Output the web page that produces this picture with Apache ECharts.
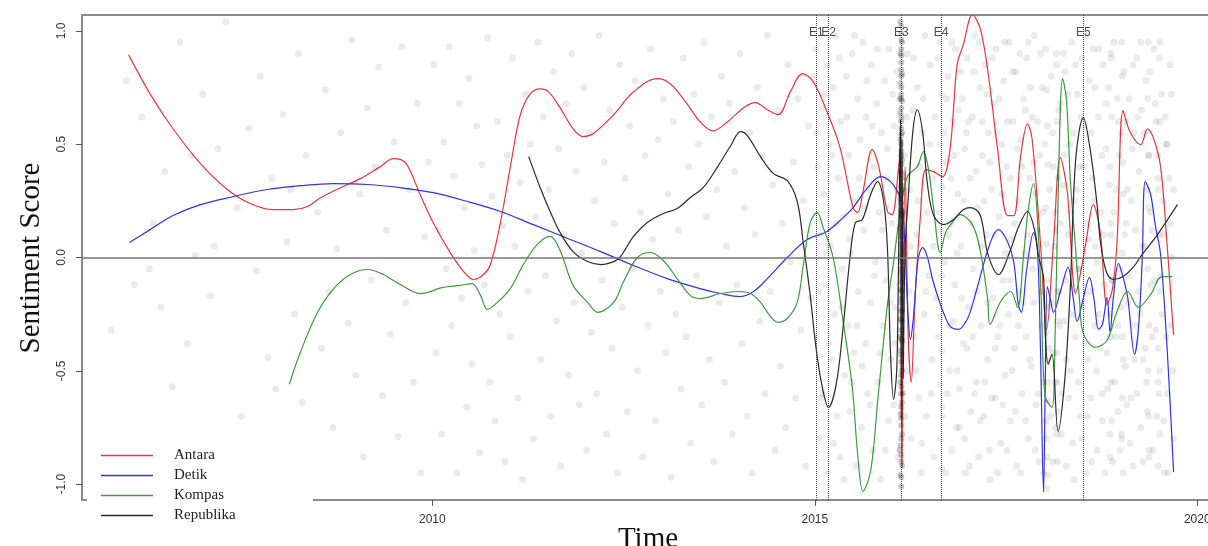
<!DOCTYPE html>
<html><head><meta charset="utf-8">
<script src="https://cdn.jsdelivr.net/npm/echarts@6/dist/echarts.min.js"></script>
<style>html,body{margin:0;padding:0;background:#fff}#c{width:1208px;height:546px}</style>
</head><body><div id="c"></div>
<script>
// ---------- data ----------
const seriesNames = ['Antara', 'Detik', 'Kompas', 'Republika'];
const xTicks = [2010, 2015, 2020];
const yTicks = [-1, -0.5, 0, 0.5, 1];
const events = [['E1', 2015.02], ['E2', 2015.18], ['E3', 2016.13], ['E4', 2016.65], ['E5', 2018.51]];

const antara = [[2006.03,0.894],[2006.31,0.722],[2006.61,0.568],[2006.97,0.414],[2007.32,0.300],[2007.62,0.238],[2007.92,0.211],[2008.18,0.211],[2008.37,0.225],[2008.54,0.264],[2008.80,0.308],[2009.06,0.348],[2009.32,0.401],[2009.49,0.436],[2009.65,0.418],[2009.84,0.278],[2010.01,0.154],[2010.24,0.018],[2010.41,-0.062],[2010.54,-0.097],[2010.67,-0.075],[2010.76,-0.031],[2010.89,0.154],[2011.02,0.401],[2011.15,0.630],[2011.28,0.722],[2011.41,0.744],[2011.52,0.731],[2011.67,0.661],[2011.84,0.568],[2011.97,0.533],[2012.10,0.546],[2012.37,0.630],[2012.63,0.731],[2012.94,0.789],[2013.11,0.767],[2013.33,0.678],[2013.50,0.599],[2013.67,0.559],[2013.86,0.599],[2014.07,0.661],[2014.22,0.683],[2014.38,0.652],[2014.52,0.630],[2014.68,0.731],[2014.84,0.811],[2014.98,0.775],[2015.16,0.643],[2015.33,0.485],[2015.50,0.220],[2015.56,0.198],[2015.63,0.291],[2015.75,0.476],[2015.83,0.410],[2015.95,0.203],[2016.01,0.189],[2016.09,0.379],[2016.12,0.489],[2016.13,-0.185],[2016.14,-0.925],[2016.155,-0.185],[2016.18,0.401],[2016.22,-0.330],[2016.26,-0.551],[2016.31,-0.185],[2016.38,0.181],[2016.45,0.388],[2016.55,0.379],[2016.67,0.357],[2016.77,0.485],[2016.86,0.850],[2016.94,0.938],[2017.06,1.07],[2017.16,1.013],[2017.26,0.828],[2017.39,0.476],[2017.52,0.185],[2017.60,0.185],[2017.69,0.445],[2017.78,0.590],[2017.84,0.524],[2017.95,0.062],[2018.03,-0.317],[2018.12,0.062],[2018.21,0.441],[2018.30,0.291],[2018.41,-0.159],[2018.47,-0.075],[2018.55,0.079],[2018.64,0.233],[2018.73,0.115],[2018.82,-0.207],[2018.89,-0.141],[2018.95,0.062],[2019.03,0.648],[2019.12,0.555],[2019.26,0.498],[2019.35,0.568],[2019.43,0.524],[2019.52,0.401],[2019.61,0.035],[2019.69,-0.343]];

const detik = [[2006.04,0.066],[2006.31,0.123],[2006.61,0.185],[2006.97,0.233],[2007.40,0.269],[2007.84,0.300],[2008.28,0.317],[2008.71,0.326],[2009.15,0.322],[2009.58,0.308],[2010.01,0.286],[2010.46,0.247],[2010.89,0.203],[2011.32,0.145],[2011.77,0.084],[2012.20,0.026],[2012.63,-0.035],[2013.07,-0.093],[2013.50,-0.137],[2013.77,-0.159],[2014.03,-0.172],[2014.20,-0.150],[2014.38,-0.093],[2014.64,0.000],[2014.90,0.079],[2015.16,0.115],[2015.37,0.176],[2015.50,0.220],[2015.69,0.308],[2015.86,0.357],[2015.99,0.335],[2016.08,0.291],[2016.14,0.242],[2016.18,0.035],[2016.22,-0.260],[2016.25,-0.361],[2016.29,-0.260],[2016.35,-0.009],[2016.41,0.044],[2016.47,0.004],[2016.54,-0.097],[2016.62,-0.185],[2016.68,-0.242],[2016.77,-0.304],[2016.88,-0.317],[2016.97,-0.286],[2017.03,-0.242],[2017.12,-0.137],[2017.29,0.062],[2017.40,0.123],[2017.52,0.070],[2017.60,-0.018],[2017.66,-0.207],[2017.70,-0.242],[2017.77,-0.053],[2017.86,0.110],[2017.91,0.035],[2017.95,-0.405],[2017.99,-1.035],[2018.01,-0.626],[2018.04,-0.128],[2018.08,-0.185],[2018.12,-0.242],[2018.21,-0.150],[2018.31,-0.044],[2018.38,-0.185],[2018.43,-0.282],[2018.50,-0.194],[2018.59,-0.088],[2018.65,-0.185],[2018.71,-0.317],[2018.76,-0.295],[2018.82,-0.176],[2018.86,-0.330],[2018.90,-0.185],[2018.97,-0.026],[2019.02,-0.075],[2019.09,-0.176],[2019.18,-0.427],[2019.23,-0.317],[2019.28,-0.009],[2019.32,0.335],[2019.39,0.278],[2019.45,0.145],[2019.52,0.013],[2019.61,-0.427],[2019.69,-0.947]];

const kompas = [[2008.13,-0.559],[2008.28,-0.414],[2008.50,-0.242],[2008.71,-0.137],[2008.93,-0.075],[2009.15,-0.053],[2009.36,-0.075],[2009.58,-0.119],[2009.84,-0.159],[2010.14,-0.132],[2010.37,-0.123],[2010.52,-0.115],[2010.63,-0.167],[2010.72,-0.229],[2010.85,-0.198],[2011.02,-0.137],[2011.19,-0.031],[2011.37,0.057],[2011.54,0.093],[2011.67,0.031],[2011.84,-0.123],[2012.03,-0.198],[2012.16,-0.242],[2012.37,-0.198],[2012.50,-0.106],[2012.68,0.000],[2012.85,0.022],[2013.02,-0.013],[2013.20,-0.093],[2013.37,-0.167],[2013.50,-0.181],[2013.77,-0.159],[2013.99,-0.150],[2014.16,-0.159],[2014.29,-0.198],[2014.42,-0.260],[2014.52,-0.286],[2014.64,-0.269],[2014.77,-0.198],[2014.85,-0.031],[2014.94,0.154],[2015.03,0.198],[2015.11,0.132],[2015.24,0.000],[2015.37,-0.282],[2015.49,-0.573],[2015.56,-0.868],[2015.63,-1.031],[2015.73,-0.943],[2015.83,-0.604],[2015.95,-0.207],[2016.03,-0.018],[2016.12,0.211],[2016.21,0.357],[2016.34,0.401],[2016.42,0.467],[2016.48,0.401],[2016.55,0.225],[2016.64,0.022],[2016.71,0.110],[2016.81,0.159],[2016.90,0.189],[2017.06,0.145],[2017.16,0.035],[2017.26,-0.185],[2017.29,-0.295],[2017.43,-0.194],[2017.56,-0.150],[2017.65,-0.220],[2017.73,0.013],[2017.79,0.211],[2017.86,0.326],[2017.92,0.115],[2017.96,-0.185],[2018.01,-0.612],[2018.10,-0.661],[2018.14,-0.361],[2018.18,0.256],[2018.24,0.789],[2018.29,0.696],[2018.34,0.344],[2018.41,0.035],[2018.46,-0.185],[2018.51,-0.335],[2018.67,-0.396],[2018.82,-0.366],[2018.95,-0.238],[2019.09,-0.150],[2019.23,-0.220],[2019.39,-0.163],[2019.54,-0.084],[2019.67,-0.084]];

const republika = [[2011.26,0.445],[2011.41,0.308],[2011.54,0.203],[2011.67,0.110],[2011.84,0.026],[2012.03,-0.018],[2012.20,-0.031],[2012.37,-0.018],[2012.46,0.004],[2012.63,0.093],[2012.81,0.154],[2013.02,0.194],[2013.20,0.216],[2013.37,0.264],[2013.54,0.308],[2013.73,0.401],[2013.90,0.493],[2014.03,0.555],[2014.12,0.537],[2014.29,0.445],[2014.46,0.370],[2014.64,0.339],[2014.77,0.247],[2014.85,0.062],[2014.94,-0.167],[2015.01,-0.383],[2015.09,-0.559],[2015.18,-0.661],[2015.28,-0.559],[2015.37,-0.308],[2015.46,0.000],[2015.53,0.154],[2015.62,0.167],[2015.73,0.278],[2015.82,0.335],[2015.90,0.247],[2015.95,0.035],[2015.99,-0.427],[2016.03,-0.626],[2016.07,-0.502],[2016.09,-0.132],[2016.12,0.608],[2016.13,-0.714],[2016.14,0.520],[2016.155,-0.537],[2016.18,0.035],[2016.22,0.256],[2016.28,0.551],[2016.34,0.652],[2016.41,0.551],[2016.47,0.330],[2016.55,0.189],[2016.68,0.145],[2016.81,0.167],[2016.94,0.211],[2017.03,0.220],[2017.16,0.189],[2017.26,0.018],[2017.40,-0.075],[2017.56,0.035],[2017.66,0.132],[2017.78,0.203],[2017.88,0.110],[2017.92,0.013],[2017.99,-0.088],[2018.01,-0.317],[2018.05,-0.471],[2018.10,-0.427],[2018.18,-0.767],[2018.27,-0.529],[2018.34,-0.132],[2018.41,0.432],[2018.51,0.617],[2018.60,0.476],[2018.69,0.233],[2018.73,0.079],[2018.81,-0.062],[2018.90,-0.097],[2019.03,-0.084],[2019.16,-0.044],[2019.29,0.018],[2019.48,0.101],[2019.74,0.233]];

// individual article scores (x, y pairs, flattened)
const dotsEarly = [2005.8,-0.32,2006.0,0.78,2006.1,-0.12,2006.2,0.62,2006.3,-0.05,2006.35,0.15,2006.5,0.38,2006.6,-0.57,2006.7,0.95,2006.8,-0.38,2006.9,0.01,2007.0,0.72,2007.1,-0.17,2007.2,0.48,2007.3,1.04,2007.35,-0.91,2007.45,0.22,2007.5,-0.7,2007.6,0.57,2007.7,-0.06,2007.75,0.8,2007.85,-0.44,2007.9,0.35,2008.0,-0.82,2008.05,0.63,2008.1,0.07,2008.2,-0.25,2008.25,0.9,2008.3,-0.64,2008.35,0.45,2008.4,-0.98,2008.5,0.2,2008.55,-0.4,2008.6,0.74,2008.7,-0.75,2008.75,0.04,2008.8,0.55,2008.9,-0.29,2008.95,0.96,2009.0,-0.52,2009.05,0.28,2009.1,-0.88,2009.15,0.66,2009.2,-0.1,2009.3,0.84,2009.35,-0.61,2009.4,0.12,2009.45,-0.34,2009.5,0.51,2009.55,-0.79,2009.6,0.93,2009.65,-0.2,2009.7,0.3,2009.75,-0.55,2009.8,0.68,2009.85,-0.95,2009.9,0.09,2009.95,0.42,2006.45,-0.22,2007.15,0.05,2008.15,0.3,2008.65,-0.15,2009.25,0.4,2007.95,-0.58,2006.85,0.45];

const dotsMid = [2010.02,0.85,2010.05,-0.42,2010.08,0.12,2010.12,-0.78,2010.15,0.51,2010.18,-0.05,2010.22,0.93,2010.25,-0.3,2010.28,0.36,2010.32,-0.95,2010.35,0.68,2010.38,-0.18,2010.42,0.22,2010.45,-0.66,2010.48,0.79,2010.52,-0.47,2010.55,0.03,2010.58,0.58,2010.62,-0.86,2010.65,0.41,2010.68,-0.12,2010.72,0.97,2010.75,-0.55,2010.78,0.27,2010.82,-0.72,2010.85,0.6,2010.88,-0.25,2010.92,0.14,2010.95,-0.9,2010.98,0.45,2011.02,-0.35,2011.05,0.88,2011.08,0.05,2011.12,-0.62,2011.15,0.33,2011.18,-0.98,2011.22,0.72,2011.25,-0.15,2011.28,0.5,2011.32,-0.8,2011.35,0.18,2011.38,0.95,2011.42,-0.45,2011.45,0.62,2011.48,-0.08,2011.52,0.3,2011.55,-0.7,2011.58,0.82,2011.62,-0.28,2011.65,0.48,2011.68,-0.92,2011.72,0.1,2011.75,0.68,2011.78,-0.52,2011.82,0.9,2011.85,-0.2,2011.88,0.38,2011.92,-0.65,2011.95,0.02,2011.98,0.75,2012.02,-0.85,2012.05,0.55,2012.08,-0.33,2012.12,0.25,2012.15,-0.6,2012.18,0.98,2012.22,-0.1,2012.25,0.42,2012.28,-0.78,2012.32,0.65,2012.35,-0.4,2012.38,0.15,2012.42,-0.95,2012.45,0.85,2012.48,-0.22,2012.52,0.35,2012.55,-0.68,2012.58,0.58,2012.62,-0.05,2012.65,0.78,2012.68,-0.5,2012.72,0.2,2012.75,-0.88,2012.78,0.45,2012.82,-0.3,2012.85,0.92,2012.88,0.08,2012.92,-0.72,2012.95,0.52,2012.98,-0.15,2013.02,0.7,2013.05,-0.42,2013.08,0.28,2013.12,-0.97,2013.15,0.6,2013.18,-0.25,2013.22,0.12,2013.25,-0.58,2013.28,0.88,2013.32,-0.35,2013.35,0.4,2013.38,-0.82,2013.42,0.72,2013.45,-0.08,2013.48,0.5,2013.52,-0.65,2013.55,0.95,2013.58,0.18,2013.62,-0.45,2013.65,0.62,2013.68,-0.9,2013.72,0.3,2013.75,-0.2,2013.78,0.8,2013.82,-0.55,2013.85,0.05,2013.88,0.68,2013.92,-0.78,2013.95,0.38,2013.98,-0.12,2014.02,0.9,2014.05,-0.38,2014.08,0.22,2014.12,-0.7,2014.15,0.55,2014.18,-0.95,2014.22,0.1,2014.25,0.75,2014.28,-0.28,2014.32,0.45,2014.35,-0.6,2014.38,0.98,2014.42,-0.15,2014.45,0.32,2014.48,-0.85,2014.52,0.65,2014.55,-0.48,2014.58,0.15,2014.62,-0.75,2014.65,0.85,2014.68,-0.02,2014.72,0.42,2014.75,-0.62,2014.78,0.7,2014.82,-0.32,2014.85,0.25,2014.88,-0.92,2014.92,0.58,2014.95,-0.18,2014.98,0.8];

const dotsLate = [2015.01,0.92,2015.03,-0.35,2015.04,0.4,2015.06,-0.8,2015.07,0.1,2015.09,0.66,2015.11,-0.6,2015.12,0.28,2015.14,-0.12,2015.16,0.85,2015.17,-0.95,2015.19,0.5,2015.21,0.05,2015.23,-0.45,2015.24,0.75,2015.26,-0.25,2015.27,0.98,2015.29,-0.7,2015.31,0.35,2015.33,-0.88,2015.34,0.6,2015.36,-0.05,2015.37,0.18,2015.39,-0.52,2015.41,0.8,2015.43,-0.3,2015.44,0.45,2015.46,-0.68,2015.47,0.02,2015.49,0.9,2015.51,-0.42,2015.53,0.25,2015.54,-0.92,2015.56,0.7,2015.57,-0.15,2015.59,0.52,2015.61,-0.75,2015.63,0.95,2015.64,0.12,2015.66,-0.38,2015.67,0.62,2015.69,-0.6,2015.71,0.3,2015.73,-0.2,2015.74,0.85,2015.76,-0.85,2015.77,0.4,2015.79,-0.02,2015.81,0.68,2015.83,-0.55,2015.84,0.2,2015.86,-0.98,2015.87,0.55,2015.89,-0.3,2015.91,0.78,2015.93,-0.1,2015.94,0.35,2015.96,-0.72,2015.97,0.92,2015.99,-0.45,2016.01,0.15,2016.03,-0.65,2016.04,0.58,2016.06,-0.22,2016.07,0.82,2016.09,-0.88,2016.17,0.45,2016.19,-0.5,2016.21,0.9,2016.23,-0.15,2016.24,0.3,2016.26,-0.8,2016.28,0.65,2016.31,-0.35,2016.33,0.1,2016.34,0.75,2016.36,-0.62,2016.37,0.4,2016.39,-0.95,2016.41,0.55,2016.43,-0.25,2016.44,0.98,2016.46,-0.7,2016.47,0.2,2016.49,-0.08,2016.51,0.85,2016.53,-0.45,2016.54,0.35,2016.56,-0.88,2016.57,0.62,2016.59,-0.18,2016.71,0.42,2016.73,-0.6,2016.74,0.8,2016.76,-0.3,2016.77,0.15,2016.79,-0.85,2016.81,0.6,2016.83,-0.12,2016.84,0.92,2016.86,-0.5,2016.87,0.28,2016.89,-0.75,2016.91,0.05,2016.93,0.7,2016.94,-0.38,2016.96,0.48,2016.97,-0.95,2016.99,0.88,2017.01,-0.22,2017.03,0.35,2017.04,-0.68,2017.06,0.62,2017.07,-0.05,2017.09,0.98,2017.11,-0.55,2017.13,0.22,2017.14,-0.88,2017.16,0.75,2017.17,-0.3,2017.19,0.45,2017.21,-0.7,2017.23,0.85,2017.24,0.1,2017.26,-0.45,2017.27,0.55,2017.29,-0.98,2017.31,0.3,2017.33,-0.18,2017.34,0.68,2017.36,-0.62,2017.37,0.92,2017.39,-0.35,2017.41,0.18,2017.43,-0.82,2017.44,0.5,2017.46,-0.1,2017.47,0.78,2017.49,-0.52,2017.51,0.4,2017.53,-0.25,2017.54,0.95,2017.56,-0.72,2017.57,0.08,2017.59,0.6,2017.61,-0.4,2017.63,0.82,2017.64,-0.92,2017.66,0.25,2017.67,-0.15,2017.69,0.52,2017.71,-0.6,2017.73,0.7,2017.74,0.02,2017.76,-0.35,2017.77,0.88,2017.79,-0.8,2017.81,0.35,2017.83,-0.48,2017.84,0.62,2017.86,-0.2,2017.87,0.98,2017.89,-0.65,2017.91,0.12,2017.93,-0.9,2017.94,0.45,2017.96,-0.3,2017.97,0.75,2017.99,-0.55,2018.11,0.55,2018.12,-0.42,2018.14,0.2,2018.15,-0.75,2018.16,0.9,2018.19,-0.15,2018.21,0.68,2018.23,-0.6,2018.24,0.32,2018.26,-0.28,2018.27,0.82,2018.29,-0.92,2018.31,0.1,2018.33,0.5,2018.34,-0.5,2018.36,0.95,2018.37,-0.82,2018.39,0.25,2018.41,-0.35,2018.43,0.72,2018.44,-0.05,2018.46,0.4,2018.47,-0.7,2018.49,0.88,2018.51,-0.22,2018.53,0.58,2018.54,-0.95,2018.56,0.15,2018.57,-0.45,2018.59,0.78,2018.61,-0.62,2018.63,0.35,2018.64,0.92,2018.66,-0.3,2018.67,0.05,2018.69,-0.85,2018.71,0.62,2018.73,-0.4,2018.74,0.2,2018.76,-0.72,2018.77,0.85,2018.79,-0.12,2018.81,0.48,2018.83,-0.58,2018.84,0.75,2018.86,-0.25,2018.87,0.1,2018.89,-0.9,2018.91,0.95,2018.93,-0.35,2018.94,0.3,2018.96,-0.68,2018.97,0.6,2018.99,-0.05,2019.01,-0.8,2019.03,0.42,2019.04,0.82,2019.06,-0.48,2019.07,0.15,2019.09,-0.2,2019.11,0.7,2019.13,-0.62,2019.14,0.25,2019.16,-0.92,2019.17,0.55,2019.19,-0.3,2019.21,0.88,2019.23,-0.15,2019.24,0.38,2019.26,-0.75,2019.27,0.65,2019.29,-0.45,2019.31,0.05,2019.33,0.78,2019.34,-0.55,2019.36,0.45,2019.37,-0.88,2019.39,0.2,2019.41,-0.35,2019.43,0.92,2019.44,-0.1,2019.46,0.6,2019.47,-0.7,2019.49,0.3,2019.51,-0.5,2019.53,0.72,2019.54,-0.25,2019.56,0.1,2019.57,-0.95,2019.59,0.5,2019.61,-0.6,2019.63,0.35,2019.64,0.85,2019.66,-0.3,2019.67,0.0,2019.69,-0.8];

const dotsLate2 = [2015.02,0.55,2015.05,-0.15,2015.08,-0.62,2015.12,0.72,2015.15,0.02,2015.18,-0.38,2015.22,0.45,2015.25,-0.82,2015.28,0.15,2015.32,0.88,2015.35,-0.22,2015.38,-0.98,2015.42,0.62,2015.45,0.08,2015.48,-0.55,2015.52,0.98,2015.55,-0.3,2015.58,0.35,2015.62,-0.48,2015.65,0.22,2015.68,0.78,2015.72,-0.65,2015.75,0.58,2015.78,-0.08,2015.82,0.92,2015.85,-0.42,2015.88,0.12,2015.92,-0.85,2015.95,0.48,2015.98,-0.2,2016.02,0.72,2016.05,-0.38,2016.08,0.3,2016.18,-0.7,2016.2,0.62,2016.25,0.05,2016.29,0.88,2016.32,-0.5,2016.35,0.25,2016.4,-0.82,2016.42,0.7,2016.45,-0.15,2016.5,0.5,2016.52,-0.6,2016.55,0.05,2016.61,0.88,2016.62,-0.35,2016.63,0.2,2016.67,-0.7,2016.68,0.55,2016.69,-0.02,2016.71,-0.95,2016.72,0.7,2016.75,0.1,2016.76,-0.5,2016.78,0.35,2016.79,0.95,2016.81,-0.28,2016.82,0.45,2016.85,-0.75,2016.86,0.02,2016.88,0.65,2016.89,-0.58,2016.91,0.82,2016.92,-0.18,2016.95,0.25,2016.96,-0.8,2016.98,0.55,2016.99,-0.4,2017.01,0.6,2017.02,-0.92,2017.05,0.15,2017.06,-0.35,2017.08,0.82,2017.09,-0.6,2017.11,0.38,2017.12,-0.15,2017.15,0.95,2017.16,-0.72,2017.18,0.05,2017.19,0.6,2017.21,0.25,2017.22,-0.55,2017.25,0.72,2017.26,-0.2,2017.28,-0.85,2017.29,0.42,2017.31,-0.62,2017.32,0.88,2017.35,0.1,2017.36,-0.4,2017.38,0.55,2017.39,-0.95,2017.41,0.7,2017.42,-0.3,2017.45,0.28,2017.46,-0.65,2017.48,0.95,2017.49,0.02,2017.51,-0.85,2017.52,0.6,2017.55,-0.1,2017.56,0.35,2017.58,-0.5,2017.59,0.82,2017.61,0.15,2017.62,-0.68,2017.65,0.48,2017.66,-0.3,2017.68,0.9,2017.69,-0.95,2017.71,0.4,2017.72,-0.2,2017.75,0.65,2017.76,-0.72,2017.78,0.1,2017.79,0.95,2017.81,-0.45,2017.82,0.75,2017.85,-0.05,2017.86,0.42,2017.88,-0.85,2017.89,0.28,2017.91,0.6,2017.92,-0.6,2017.95,0.9,2017.96,-0.15,2017.98,0.2,2017.99,-0.95,2018.01,0.5,2018.06,-0.4,2018.07,0.3,2018.08,-0.7,2018.09,0.8,2018.1,-0.2,2018.11,-0.9,2018.12,0.4,2018.13,0.05,2018.14,-0.55,2018.19,0.65,2018.2,-0.3,2018.21,0.15,2018.22,-0.78,2018.25,0.9,2018.26,0.45,2018.28,-0.1,2018.29,-0.45,2018.31,0.72,2018.32,-0.62,2018.35,0.2,2018.36,-0.25,2018.38,0.55,2018.39,-0.98,2018.41,0.85,2018.42,0.3,2018.45,-0.55,2018.46,-0.05,2018.48,0.62,2018.49,-0.8,2018.51,0.4,2018.52,-0.38,2018.55,0.98,2018.56,-0.7,2018.58,0.08,2018.59,-0.15,2018.61,0.55,2018.62,-0.9,2018.65,0.25,2018.66,0.75,2018.68,-0.5,2018.69,-0.02,2018.71,0.92,2018.72,-0.25,2018.75,0.45,2018.76,-0.6,2018.78,0.1,2018.79,-0.95,2018.81,0.68,2018.82,-0.42,2018.85,0.32,2018.86,-0.78,2018.88,0.88,2018.89,-0.1,2018.91,0.2,2018.92,-0.55,2018.95,0.7,2018.96,-0.3,2018.98,0.45,2018.99,-0.85,2019.01,0.95,2019.02,-0.35,2019.05,0.1,2019.06,0.6,2019.08,-0.65,2019.09,0.3,2019.11,-0.08,2019.12,-0.82,2019.15,0.48,2019.16,0.85,2019.18,-0.45,2019.19,0.12,2019.21,-0.6,2019.22,0.62,2019.25,-0.25,2019.26,0.95,2019.28,0.05,2019.29,-0.9,2019.31,0.55,2019.32,-0.4,2019.35,0.3,2019.36,-0.7,2019.38,0.82,2019.39,-0.12,2019.41,0.12,2019.42,-0.85,2019.45,0.68,2019.46,-0.32,2019.48,0.45,2019.49,-0.55,2019.51,0.95,2019.52,-0.08,2019.55,0.25,2019.56,-0.72,2019.58,0.62,2019.59,-0.35,2019.61,0.5,2019.62,-0.95,2019.65,0.15,2019.66,0.72,2019.68,-0.5,2019.69,0.3];

// very dense cluster of articles on the E3 date
const dotsE3 = [2016.12,1.04,2016.13,0.99,2016.14,0.95,2016.12,0.9,2016.13,0.86,2016.14,0.81,2016.12,0.77,2016.13,0.72,2016.14,0.69,2016.12,0.64,2016.13,0.6,2016.14,0.55,2016.12,0.52,2016.13,0.47,2016.14,0.43,2016.12,0.38,2016.13,0.35,2016.14,0.3,2016.12,0.26,2016.13,0.21,2016.14,0.18,2016.12,0.13,2016.13,0.09,2016.14,0.04,2016.12,0.0,2016.13,-0.05,2016.14,-0.09,2016.12,-0.14,2016.13,-0.18,2016.14,-0.23,2016.12,-0.27,2016.13,-0.32,2016.14,-0.37,2016.12,-0.41,2016.13,-0.46,2016.14,-0.5,2016.12,-0.55,2016.13,-0.6,2016.14,-0.64,2016.12,-0.69,2016.13,-0.74,2016.14,-0.78,2016.12,-0.83,2016.13,-0.87,2016.14,-0.92,2016.12,-0.96,2016.13,-1.01,2016.13,0.92,2016.13,0.83,2016.13,0.75,2016.13,0.66,2016.13,0.57,2016.13,0.5,2016.13,0.41,2016.13,0.32,2016.13,0.24,2016.13,0.15,2016.13,0.06,2016.13,-0.02,2016.13,-0.11,2016.13,-0.2,2016.13,-0.28,2016.11,-0.35,2016.11,0.7,2016.15,0.2,2016.15,-0.6,2016.11,-0.85,2016.13,1.02,2016.13,0.96,2016.13,0.89,2016.13,0.8,2016.13,0.7,2016.13,0.62,2016.13,0.54,2016.13,0.45,2016.13,0.37,2016.13,0.28,2016.13,0.19,2016.13,0.11,2016.13,0.02,2016.13,-0.07,2016.13,-0.15,2016.13,-0.24,2016.13,-0.36,2016.13,-0.43,2016.13,-0.52,2016.13,-0.57,2016.13,-0.66,2016.13,-0.71,2016.13,-0.8,2016.13,-0.9,2016.13,-0.97];

const dotsColumns = [2016.64,0.95,2016.66,0.72,2016.64,0.5,2016.66,0.31,2016.64,0.12,2016.66,-0.08,2016.64,-0.26,2016.66,-0.41,2016.64,-0.56,2016.66,-0.66,2016.64,-0.8,2016.66,-0.93,
2018.02,0.92,2018.03,0.74,2018.04,0.58,2018.05,0.41,2018.02,0.22,2018.03,0.06,2018.04,-0.1,2018.05,-0.22,2018.02,-0.33,2018.03,-0.45,2018.04,-0.55,2018.05,-0.63,2018.02,-0.72,2018.03,-0.8,2018.04,-0.88,2018.05,-0.96,2018.03,-1.02,
2018.16,0.85,2018.17,0.6,2018.18,0.35,2018.16,0.12,2018.17,-0.15,2018.18,-0.28,2018.16,-0.42,2018.17,-0.55,2018.18,-0.68,2018.16,-0.78,2018.17,-0.9,
2018.87,0.9,2018.88,0.62,2018.86,0.4,2018.87,0.15,2018.88,-0.1,2018.86,-0.35,2018.87,-0.55,2018.88,-0.72,2018.86,-0.88,
2019.02,0.8,2019.01,0.55,2019.03,0.28,2019.02,0.02,2019.01,-0.22,2019.03,-0.45,2019.02,-0.62,2019.01,-0.78,2019.03,-0.95,
2019.36,0.95,2019.35,0.7,2019.37,0.45,2019.36,0.22,2019.35,-0.05,2019.37,-0.3,2019.36,-0.5,2019.35,-0.68,2019.37,-0.85,
2019.5,0.88,2019.51,0.6,2019.49,0.35,2019.5,0.1,2019.51,-0.15,2019.49,-0.4,2019.5,-0.6,2019.51,-0.78,2019.49,-0.92];

// ---------- chart ----------
function pairs(flat) { const out = []; for (let i = 0; i < flat.length; i += 2) out.push([flat[i], flat[i + 1]]); return out; }
const dots = pairs(dotsEarly.concat(dotsMid, dotsLate, dotsLate2, dotsColumns));
const dotsE3Pairs = pairs(dotsE3);
const colors = ['#e8353b', '#3232e6', '#3d9a3d', '#2b2b2b'];
const lineData = [antara, detik, kompas, republika];
const sansFont = '"Liberation Sans", Arial, sans-serif';
const serifFont = '"Liberation Serif", "Times New Roman", serif';
const X_MIN = 2005.42, X_MAX = 2020.14;

const chart = echarts.init(document.getElementById('c'), null, { renderer: 'canvas' });
const axisLineStyle = { color: '#8c8c8c', width: 2 };
const option = {
  animation: false,
  backgroundColor: '#fff',
  grid: { left: 82, right: 0, top: 15, bottom: 46, outerBoundsMode: 'none', containLabel: false },
  xAxis: [{
    type: 'value', min: X_MIN, max: X_MAX, position: 'bottom',
    splitLine: { show: false },
    axisLine: { show: true, onZero: false, lineStyle: axisLineStyle },
    axisTick: { show: true, length: 6, lineStyle: { color: '#555', width: 1 }, customValues: xTicks },
    axisLabel: { show: true, customValues: xTicks, margin: 14, fontSize: 12, fontFamily: sansFont, color: '#333',
      formatter: v => String(v) }
  }, {
    type: 'value', min: X_MIN, max: X_MAX, position: 'top',
    splitLine: { show: false },
    axisLine: { show: true, onZero: false, lineStyle: axisLineStyle },
    axisTick: { show: false }, axisLabel: { show: false }
  }],
  yAxis: {
    type: 'value', min: -1.07, max: 1.07,
    splitLine: { show: false },
    axisLine: { show: true, onZero: false, lineStyle: axisLineStyle },
    axisTick: { show: true, length: 6, lineStyle: { color: '#555', width: 1 }, customValues: yTicks },
    axisLabel: { show: true, customValues: yTicks, rotate: 90, margin: 14, fontSize: 12, fontFamily: sansFont, color: '#333',
      formatter: v => v.toFixed(1) }
  },
  legend: {
    orient: 'vertical', left: 101, top: 448, padding: 0, itemGap: 5,
    itemWidth: 52, itemHeight: 1.6, icon: 'rect',
    textStyle: { fontFamily: serifFont, fontSize: 15, color: '#222', padding: [0, 0, 0, 16] },
    data: seriesNames
  },
  graphic: { elements: [
    { type: 'rect', z: 3, shape: { x: 87, y: 436, width: 226, height: 110 }, style: { fill: '#fff' } },
    { type: 'text', z: 5, x: 31, y: 258, rotation: Math.PI / 2,
      style: { text: 'Sentiment Score', font: '29px ' + serifFont, align: 'center', verticalAlign: 'middle', fill: '#111' } },
    { type: 'text', z: 5, x: 648, y: 539,
      style: { text: 'Time', font: '29px ' + serifFont, align: 'center', verticalAlign: 'middle', fill: '#111' } }
  ] },
  series: [
    { type: 'scatter', name: 'articles', data: dots, symbol: 'circle', symbolSize: 7, silent: true,
      itemStyle: { color: 'rgba(0,0,0,0.1)' } },
    { type: 'scatter', name: 'articlesE3', data: dotsE3Pairs, symbol: 'circle', symbolSize: 6, silent: true,
      itemStyle: { color: 'rgba(0,0,0,0.28)' } },
    { type: 'scatter', name: 'events', silent: true, symbolSize: 0,
      data: events.map(e => [e[1], 0.99, e[0]]),
      label: { show: true, position: 'inside', formatter: p => p.data[2], fontSize: 12, fontFamily: sansFont, color: '#222' },
      markLine: { silent: true, symbol: ['none', 'none'], label: { show: false },
        data: events.map(e => ({ xAxis: e[1], lineStyle: { type: 'dotted', color: '#444', width: 1 } }))
          .concat([{ yAxis: 0, lineStyle: { type: 'solid', color: '#777', width: 1.5 } }]) } }
  ].concat(seriesNames.map((n, i) => ({
    type: 'line', name: n, data: lineData[i], symbol: 'none', smooth: 0.35, clip: true,
    lineStyle: { color: colors[i], width: 1.2 }, itemStyle: { color: colors[i] }, z: 2
  })))
};
chart.setOption(option);
</script></body></html>
